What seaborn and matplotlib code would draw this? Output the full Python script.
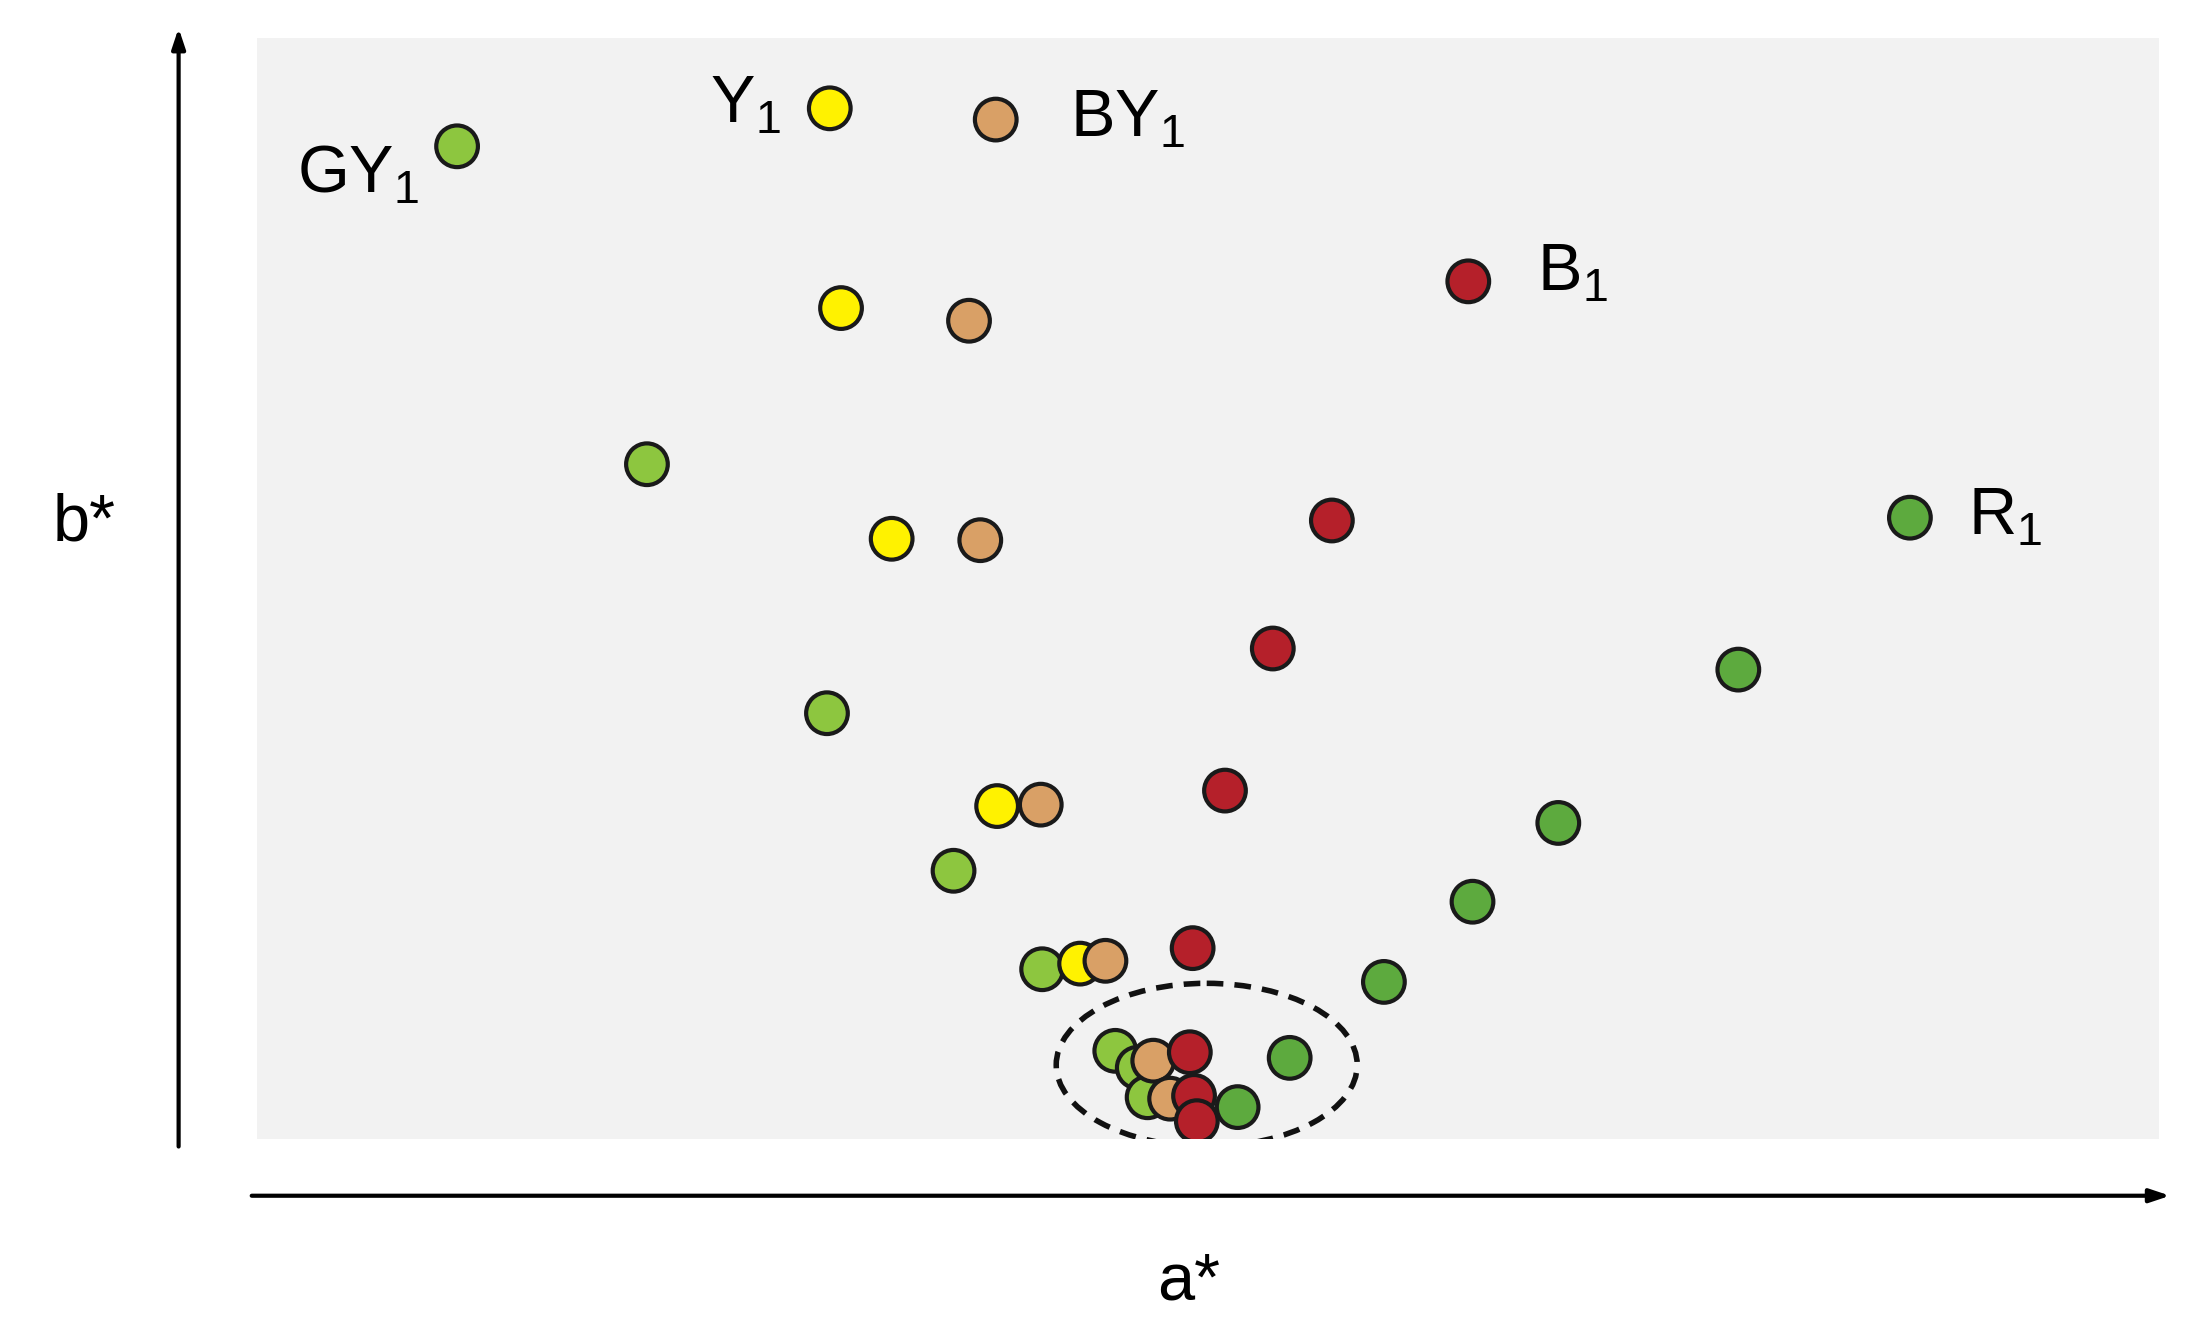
import matplotlib
matplotlib.use("Agg")
import matplotlib.pyplot as plt
import seaborn as sns
import pandas as pd
from matplotlib.patches import Ellipse

plt.rcParams['font.family'] = ['Liberation Sans', 'DejaVu Sans']
plt.rcParams['mathtext.fontset'] = 'custom'
plt.rcParams['mathtext.rm'] = 'Liberation Sans'

# a*, b* (arbitrary units; b* increases downward in list order)
gy_a = [325, 460, 588, 678, 741, 793, 809, 816]
gy_b = [104, 330, 507, 619, 689, 747, 759, 780]
y_a = [590, 598, 634, 709, 768]
y_b = [77, 219, 383, 573, 685]
by_a = [708, 689, 697, 740, 786, 820, 832]
by_b = [85, 228, 384, 572, 683, 754, 781]
b_a = [1044, 947, 905, 871, 848, 846, 849, 851]
b_b = [200, 370, 461, 562, 674, 748, 779, 797]
r_a = [1358, 1236, 1108, 1047, 984, 917, 880]
r_b = [368, 476, 585, 641, 698, 752, 787]
series = ['GY', 'Y', 'BY', 'B', 'R']
colors = {'GY': '#8DC63F', 'Y': '#FFF200', 'BY': '#D9A066', 'B': '#B5202A', 'R': '#5DAA3E'}
labels = ['GY$_\\mathregular{1}$', 'Y$_\\mathregular{1}$', 'BY$_\\mathregular{1}$',
          'B$_\\mathregular{1}$', 'R$_\\mathregular{1}$']

rows = []
for name, xa, yb in zip(series, [gy_a, y_a, by_a, b_a, r_a], [gy_b, y_b, by_b, b_b, r_b]):
    for a, b in zip(xa, yb):
        rows.append((name, a, b))
df = pd.DataFrame(rows, columns=['s', 'a', 'b'])

W, H = 1560, 949
fig = plt.figure(figsize=(21.94, 13.35), dpi=100)
x0, x1, y0, y1 = 183, 1535, 27, 810
ax = fig.add_axes([x0 / W, 1 - y1 / H, (x1 - x0) / W, (y1 - y0) / H])
ax.set_facecolor('#F2F2F2')
ax.add_patch(Ellipse((858, 757), 214, 116, fill=False, ls=(0, (3, 2)), lw=4, color='#111111'))
sns.scatterplot(data=df, x='a', y='b', hue='s', palette=colors, s=900,
                edgecolor='#1a1a1a', linewidth=3, legend=False, ax=ax, zorder=3)
ax.set_xlim(x0, x1)
ax.set_ylim(y1, y0)
for sp in ax.spines.values():
    sp.set_visible(False)
ax.set_xticks([]); ax.set_yticks([])
ax.set_xlabel(''); ax.set_ylabel('')

lab_pos = [(255, 125), (530, 75), (802, 85), (1118, 195), (1426, 368)]
for t, (lx, ly) in zip(labels, lab_pos):
    ax.text(lx, ly, t, fontsize=48, ha='center', va='center')

fa = fig.add_axes([0, 0, 1, 1], facecolor='none')
fa.set_xlim(0, W); fa.set_ylim(H, 0); fa.axis('off')
fa.annotate('', xy=(127, 18), xytext=(127, 817),
            arrowprops=dict(arrowstyle='-|>,head_length=1.2,head_width=0.4', lw=3, color='black'))
fa.annotate('', xy=(1545, 850), xytext=(177, 850),
            arrowprops=dict(arrowstyle='-|>,head_length=1.2,head_width=0.4', lw=3, color='black'))
fa.text(60, 372, 'b*', fontsize=48, ha='center', va='center')
fa.text(845, 912, 'a*', fontsize=48, ha='center', va='center')

fig.savefig('out.png', dpi=100)
